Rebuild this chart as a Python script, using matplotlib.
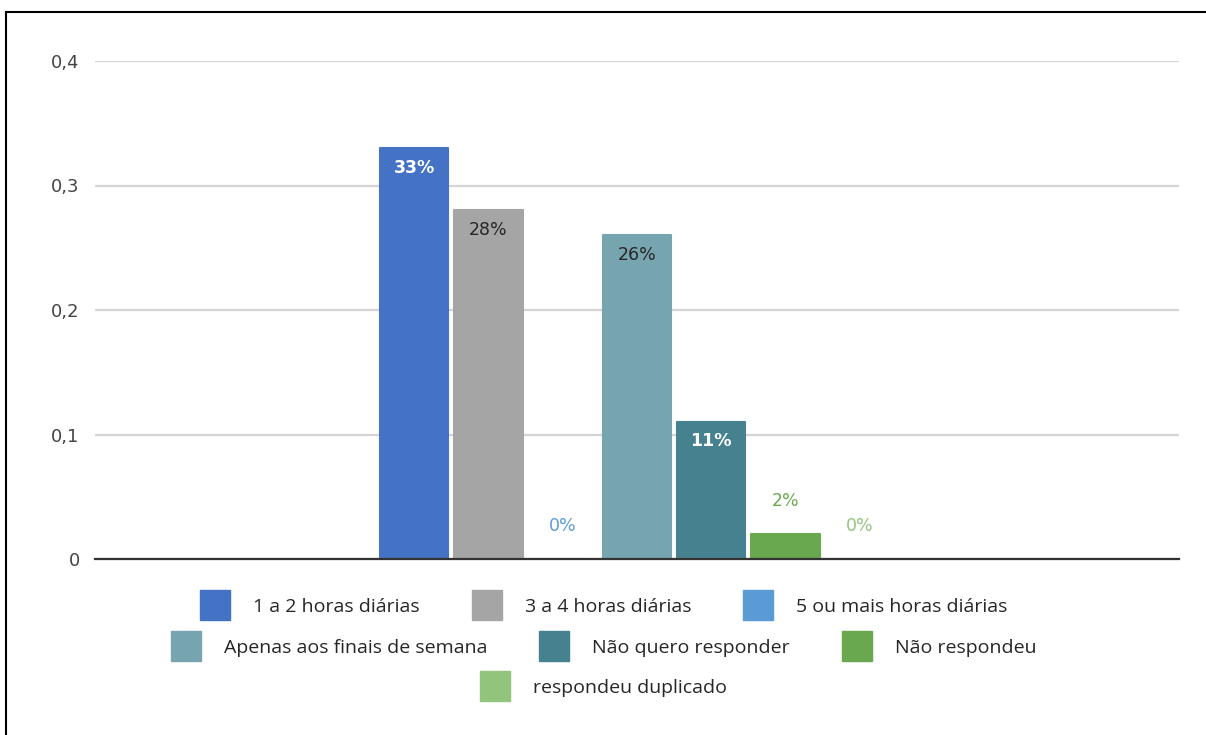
import matplotlib.pyplot as plt
from matplotlib.lines import Line2D
import numpy as np

# data
series = ['1 a 2 horas diárias', '3 a 4 horas diárias', '5 ou mais horas diárias',
          'Apenas aos finais de semana', 'Não quero responder', 'Não respondeu',
          'respondeu duplicado']
values = [0.33, 0.28, 0.0, 0.26, 0.11, 0.02, 0.0]
yticks = [0, 0.1, 0.2, 0.3, 0.4]
ytick_labels = ['0', '0,1', '0,2', '0,3', '0,4']

colors = ['#4472c4', '#a5a5a5', '#5b9bd5', '#76a5af', '#45818e', '#6aa84f', '#93c47d']
label_colors = ['white', '#262626', '#5b9bd5', '#262626', 'white', '#6aa84f', '#93c47d']
label_inside = [True, True, False, True, True, False, False]
label_bold = [True, False, False, False, True, False, False]

W, H = 1206, 735
fig = plt.figure(figsize=(W / 100, H / 100), dpi=100)
ax = fig.add_axes([95 / W, 1 - 559 / H, (1179 - 95) / W, (559 - 61) / H])

pitch = 0.0685
width = 0.063
n = len(values)
for i, (v, c) in enumerate(zip(values, colors)):
    x = (i - (n - 1) / 2) * pitch
    if v > 0:
        ax.bar(x, v, width=width, color=c, edgecolor=c, linewidth=1.5,
               joinstyle='round', zorder=3)
    if label_inside[i]:
        ax.annotate(f'{v:.0%}', (x, v), xytext=(0, -14), textcoords='offset points',
                    ha='center', va='center', color=label_colors[i], fontsize=12.5,
                    fontweight='bold' if label_bold[i] else 'normal',
                    family='DejaVu Sans', zorder=4)
    else:
        ax.annotate(f'{v:.0%}', (x, v), xytext=(0, 24), textcoords='offset points',
                    ha='center', va='center', color=label_colors[i], fontsize=12.5,
                    family='DejaVu Sans', zorder=4)

ax.set_xlim(-0.5, 0.5)
ax.set_ylim(0, 0.4)
ax.set_yticks(yticks)
ax.set_yticklabels(ytick_labels, family='DejaVu Sans', fontsize=13, color='#444444')
ax.tick_params(axis='y', length=0, pad=11)
ax.set_xticks([])
ax.grid(axis='y', color='#d4d4d4', linewidth=1.6, zorder=0)
for s in ['top', 'right', 'left']:
    ax.spines[s].set_visible(False)
ax.spines['bottom'].set_color('#333333')
ax.spines['bottom'].set_linewidth(1.6)
ax.spines['bottom'].set_zorder(5)

# legend rows (flow layout, centered)
rows = [[0, 1, 2], [3, 4, 5], [6]]
row_y = [607, 648, 688]
for r, yy in zip(rows, row_y):
    handles = [Line2D([], [], marker='s', linestyle='none', markersize=22,
                      markerfacecolor=colors[k], markeredgecolor=colors[k]) for k in r]
    fig.legend(handles, [series[k] for k in r], ncol=len(r), loc='center',
               bbox_to_anchor=(0.5, 1 - yy / H), frameon=False,
               prop={'family': 'Open Sans', 'size': 14}, labelcolor='#262626',
               handlelength=1.7, handletextpad=1.1, columnspacing=2.6,
               borderpad=0, borderaxespad=0)

# outer frame (top and left only)
fig.add_artist(Line2D([6 / W, 1], [1 - 12 / H, 1 - 12 / H], color='black', linewidth=1.5))
fig.add_artist(Line2D([6 / W, 6 / W], [0, 1 - 12 / H], color='black', linewidth=1.5))

plt.savefig('out.png', dpi=100)
